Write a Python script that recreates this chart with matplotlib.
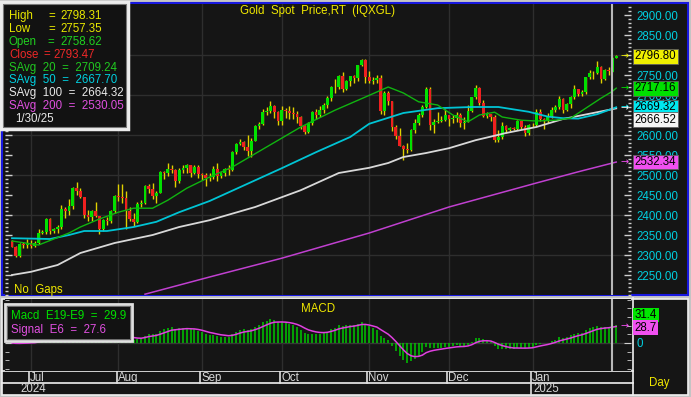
import matplotlib
matplotlib.use("Agg")
import numpy as np
import pandas as pd
import matplotlib.pyplot as plt
from matplotlib.patches import Rectangle
from matplotlib.ticker import MultipleLocator, FixedLocator, FuncFormatter

plt.rcParams['font.family'] = ['Liberation Sans', 'DejaVu Sans']

# ---- data (daily gold spot candles, weekdays 2024-06-24 .. 2025-01-31) ----
days = pd.bdate_range("2024-06-24", "2025-01-31")

opens = [2334, 2321, 2298, 2327, 2326, 2327, 2323, 2330, 2356, 2357,
         2390, 2359, 2364, 2371, 2415, 2411, 2422, 2468, 2459, 2445,
         2400, 2396, 2409, 2397, 2364, 2387, 2384, 2410, 2447, 2446,
         2443, 2410, 2390, 2382, 2427, 2431, 2472, 2465, 2447, 2456,
         2507, 2504, 2514, 2512, 2484, 2512, 2518, 2524, 2504, 2520,
         2503, 2500, 2493, 2495, 2516, 2497, 2506, 2516, 2512, 2558,
         2578, 2582, 2569, 2559, 2586, 2622, 2628, 2657, 2659, 2672,
         2658, 2634, 2663, 2659, 2656, 2653, 2644, 2622, 2608, 2630,
         2657, 2649, 2662, 2674, 2693, 2721, 2720, 2748, 2716, 2736,
         2747, 2743, 2774, 2788, 2744, 2736, 2737, 2743, 2659, 2706,
         2685, 2619, 2598, 2573, 2565, 2563, 2612, 2631, 2650, 2670,
         2715, 2625, 2632, 2636, 2638, 2650, 2639, 2643, 2650, 2631,
         2633, 2660, 2694, 2718, 2680, 2648, 2652, 2646, 2587, 2594,
         2622, 2612, 2618, 2614, 2634, 2621, 2606, 2624, 2626, 2658,
         2640, 2636, 2648, 2662, 2670, 2690, 2663, 2677, 2696, 2714,
         2703, 2708, 2744, 2755, 2754, 2770, 2740, 2763, 2758.62, 2793.47]
highs = [2337, 2322, 2330, 2333, 2340, 2337, 2336, 2365, 2363, 2392,
         2393, 2367, 2375, 2424, 2419, 2440, 2469, 2483, 2468, 2446,
         2413, 2412, 2432, 2398, 2390, 2394, 2413, 2451, 2477, 2477,
         2461, 2421, 2404, 2432, 2438, 2475, 2478, 2480, 2461, 2509,
         2510, 2531, 2526, 2514, 2517, 2526, 2528, 2526, 2524, 2524,
         2504, 2504, 2505, 2523, 2529, 2508, 2518, 2525, 2560, 2581,
         2590, 2584, 2600, 2592, 2625, 2633, 2664, 2670, 2685, 2675,
         2660, 2672, 2667, 2672, 2670, 2659, 2647, 2625, 2632, 2661,
         2666, 2673, 2679, 2697, 2722, 2740, 2749, 2758, 2738, 2748,
         2749, 2774, 2790, 2790, 2759, 2744, 2750, 2749, 2710, 2709,
         2686, 2626, 2618, 2575, 2580, 2615, 2639, 2656, 2674, 2721,
         2721, 2640, 2657, 2647, 2665, 2651, 2650, 2658, 2656, 2646,
         2676, 2696, 2726, 2721, 2688, 2658, 2653, 2651, 2613, 2632,
         2625, 2620, 2620, 2638, 2636, 2624, 2627, 2630, 2664, 2665,
         2643, 2654, 2670, 2675, 2697, 2693, 2679, 2697, 2725, 2716,
         2713, 2745, 2763, 2759, 2786, 2772, 2765, 2769, 2798.31, 2799]
lows = [2319, 2294, 2296, 2317, 2318, 2318, 2319, 2327, 2352, 2353,
        2353, 2355, 2355, 2366, 2393, 2400, 2414, 2451, 2443, 2393,
        2384, 2385, 2394, 2353, 2360, 2374, 2380, 2406, 2434, 2431,
        2364, 2385, 2372, 2379, 2421, 2428, 2455, 2441, 2430, 2455,
        2490, 2497, 2505, 2470, 2479, 2504, 2506, 2494, 2502, 2493,
        2488, 2472, 2486, 2490, 2485, 2493, 2497, 2500, 2510, 2553,
        2574, 2563, 2547, 2546, 2584, 2615, 2624, 2650, 2655, 2643,
        2625, 2624, 2642, 2641, 2640, 2630, 2615, 2603, 2604, 2625,
        2640, 2644, 2656, 2668, 2686, 2706, 2716, 2708, 2712, 2722,
        2731, 2735, 2772, 2730, 2730, 2728, 2730, 2652, 2650, 2675,
        2611, 2590, 2572, 2537, 2555, 2560, 2605, 2625, 2644, 2668,
        2612, 2605, 2630, 2632, 2636, 2622, 2630, 2633, 2621, 2614,
        2632, 2658, 2690, 2675, 2644, 2643, 2634, 2583, 2583, 2590,
        2604, 2609, 2612, 2612, 2614, 2597, 2600, 2620, 2623, 2636,
        2614, 2630, 2642, 2657, 2665, 2656, 2660, 2667, 2690, 2697,
        2697, 2703, 2741, 2740, 2752, 2730, 2738, 2750, 2757.35, 2792]
closes = [2321, 2298, 2327, 2326, 2327, 2323, 2330, 2356, 2357, 2390,
          2359, 2364, 2371, 2415, 2411, 2422, 2468, 2459, 2445, 2400,
          2396, 2409, 2397, 2364, 2387, 2384, 2410, 2447, 2446, 2443,
          2410, 2390, 2382, 2427, 2431, 2472, 2465, 2447, 2456, 2507,
          2504, 2514, 2512, 2484, 2512, 2518, 2524, 2504, 2520, 2503,
          2500, 2493, 2495, 2516, 2497, 2506, 2516, 2512, 2558, 2578,
          2582, 2569, 2559, 2586, 2622, 2628, 2657, 2659, 2672, 2658,
          2634, 2663, 2659, 2656, 2653, 2644, 2622, 2608, 2630, 2657,
          2649, 2662, 2674, 2693, 2721, 2720, 2748, 2716, 2736, 2747,
          2743, 2774, 2788, 2744, 2736, 2737, 2743, 2659, 2706, 2685,
          2619, 2598, 2573, 2565, 2563, 2612, 2631, 2650, 2670, 2715,
          2625, 2632, 2636, 2638, 2650, 2639, 2643, 2650, 2631, 2633,
          2660, 2694, 2718, 2680, 2648, 2652, 2646, 2587, 2594, 2622,
          2612, 2618, 2614, 2634, 2621, 2606, 2624, 2626, 2658, 2640,
          2636, 2648, 2662, 2670, 2690, 2663, 2677, 2696, 2714, 2703,
          2708, 2744, 2755, 2754, 2770, 2740, 2763, 2760, 2793.47, 2796.80]

# moving averages
sma20_dates = ["2024-06-24", "2024-07-03", "2024-07-15", "2024-07-18", "2024-07-25", "2024-08-01",
               "2024-08-07", "2024-08-14", "2024-08-20", "2024-08-27", "2024-09-04", "2024-09-12",
               "2024-09-25", "2024-10-08", "2024-10-21", "2024-10-31", "2024-11-08", "2024-11-14",
               "2024-11-20", "2024-11-27", "2024-12-03", "2024-12-09", "2024-12-12", "2024-12-18",
               "2024-12-20", "2024-12-27", "2025-01-02", "2025-01-09", "2025-01-15", "2025-01-21",
               "2025-01-27", "2025-01-30", "2025-01-31"]
sma20_vals = [2335, 2325, 2355, 2370, 2390, 2407, 2417, 2417, 2437, 2467, 2495, 2520,
              2570, 2620, 2662, 2695, 2720, 2705, 2683, 2675, 2650, 2633, 2650, 2657,
              2645, 2637, 2635, 2637, 2642, 2667, 2692, 2709.24, 2717.16]
sma50_dates = ["2024-06-24", "2024-07-08", "2024-07-15", "2024-07-19", "2024-07-29", "2024-08-07",
               "2024-08-15", "2024-08-23", "2024-09-04", "2024-10-01", "2024-10-14", "2024-10-25",
               "2024-11-01", "2024-11-07", "2024-11-14", "2024-11-27", "2024-12-10", "2024-12-19",
               "2024-12-31", "2025-01-07", "2025-01-13", "2025-01-17", "2025-01-24", "2025-01-31"]
sma50_vals = [2342, 2340, 2350, 2360, 2360, 2370, 2383, 2407, 2435, 2517, 2557, 2595,
              2628, 2640, 2655, 2667, 2670, 2670, 2658, 2646, 2642, 2641, 2652, 2669.32]
sma100_dates = ["2024-06-24", "2024-07-01", "2024-07-10", "2024-07-18", "2024-07-31", "2024-08-14",
                "2024-08-23", "2024-09-04", "2024-09-20", "2024-10-08", "2024-10-22", "2024-11-01",
                "2024-11-08", "2024-11-14", "2024-11-22", "2024-12-02", "2024-12-11", "2024-12-23",
                "2025-01-02", "2025-01-13", "2025-01-24", "2025-01-31"]
sma100_vals = [2250, 2258, 2275, 2305, 2330, 2350, 2370, 2387, 2420, 2462, 2505, 2518,
               2530, 2545, 2555, 2567, 2587, 2605, 2620, 2640, 2657, 2666.52]
sma200_dates = ["2024-08-12", "2024-09-04", "2024-10-01", "2024-11-01", "2024-12-02",
                "2025-01-02", "2025-01-17", "2025-01-31"]
sma200_vals = [2202, 2245, 2292, 2355, 2420, 2480, 2508, 2532.34]

legend_ma = [("SAvg  20  =  2709.24", "#20c820"), ("SAvg  50  =  2667.70", "#00d0e0"),
             ("SAvg  100  =  2664.32", "#e8e8e8"), ("SAvg  200  =  2530.05", "#e050e0")]
macd_text = "Macd  E19-E9  =  29.9"
signal_text = "Signal  E6  =  27.6"
macd_last, signal_last = 31.4, 28.7
price_labels = [2250, 2300, 2350, 2400, 2450, 2500, 2550, 2600, 2700, 2750, 2850, 2900]

# ---- derived ----
idx = np.arange(len(days))
pos = {d.strftime("%Y-%m-%d"): i for i, d in enumerate(days)}
o, h, l, c = map(np.array, (opens, highs, lows, closes))
cl = pd.Series(c)
macd = cl.ewm(span=9, adjust=False).mean() - cl.ewm(span=19, adjust=False).mean()
signal = macd.ewm(span=6, adjust=False).mean()

W, H = 691, 397
BG = "#151515"
GRID = "#2e2e2e"
YEL = "#f0e800"
CYAN = "#00d0e0"


def rect(lft, top, rgt, bot):
    return [lft / W, 1 - bot / H, (rgt - lft) / W, (bot - top) / H]


fig = plt.figure(figsize=(W / 100, H / 100), dpi=100, facecolor="#c4c4c4")
bg = fig.add_axes([0, 0, 1, 1], zorder=0)
bg.set_xlim(0, W)
bg.set_ylim(H, 0)
bg.axis("off")
bg.add_patch(Rectangle((2.5, 2.5), 686, 292, fc=BG, ec="#1818e0", lw=1.5))
bg.add_patch(Rectangle((2.5, 298.5), 686, 96, fc=BG, ec="#f0f0f0", lw=1.2))
bg.plot([633, 633], [298, 395], color="#f0f0f0", lw=1.2)
bg.plot([2, 633], [371, 371], color="#f0f0f0", lw=1.2)
bg.plot([2, 633], [382.5, 382.5], color="#f0f0f0", lw=1.2)

x0, x1 = (5 - 12) / 3.8, (631 - 12) / 3.8

# ---- price panel ----
ax = fig.add_axes(rect(5, 4, 631, 295), zorder=1)
ax.set_facecolor(BG)
ax.set_xlim(x0, x1)
ax.set_ylim(2200, 2927.5)
for s in ax.spines.values():
    s.set_visible(False)
ax.set_xticks([])
ax.yaxis.set_major_locator(FixedLocator(list(range(2250, 2901, 50))))
ax.yaxis.set_minor_locator(MultipleLocator(10))
ax.yaxis.set_major_formatter(FuncFormatter(
    lambda v, p: f"{v:.2f}" if round(v) in price_labels else ""))
ax.tick_params(axis="y", which="both", direction="in", left=True, right=True,
               labelleft=False, labelright=True, colors="#d0d0d0",
               labelcolor=CYAN, labelsize=8.3, pad=4)
ax.tick_params(axis="y", which="major", length=5, width=1)
ax.tick_params(axis="y", which="minor", length=2.5, width=1)
for v in range(2300, 2900, 100):
    ax.axhline(v, color=GRID, lw=1, zorder=0.5)

month_starts = [i for i in range(1, len(days)) if days[i].month != days[i - 1].month]
for i in month_starts:
    ax.axvline(i, color=GRID, lw=1, zorder=0.5)

ax.vlines(idx, l, h, colors="#e0d000", lw=1, zorder=2)
body_lo = np.minimum(o, c)
body_h = np.maximum(np.abs(c - o), 1.2)
ax.bar(idx, body_h, bottom=body_lo, width=0.75,
       color=np.where(c >= o, "#00e000", "#f02020"), lw=0, zorder=3)

ma_styles = [(sma200_dates, sma200_vals, "#c040d0", 1.1),
             (sma100_dates, sma100_vals, "#d8d8d8", 1.3),
             (sma50_dates, sma50_vals, "#00c4d4", 1.3),
             (sma20_dates, sma20_vals, "#10b410", 1.0)]
for dts, vals, col, lw in ma_styles:
    ax.plot([pos[d] for d in dts], vals, color=col, lw=lw, zorder=4)

ax.axvline(158, color="#b8b8b8", lw=1.5, zorder=5)

# value tags on the right axis
ytr = ax.get_yaxis_transform()
tags = [(closes[-1], 0, "#f0f000"),
        (sma20_vals[-1], 0, "#00e000"),
        (sma50_vals[-1], 0, "#00e8f0"),
        (sma100_vals[-1], -28, "#f4f4f4"),
        (sma200_vals[-1], 0, "#f050f0")]
for val, off, fc in tags:
    ax.text(1.006, val + off, f"{val:.2f}", transform=ytr, ha="left", va="center",
            fontsize=8.3, color="black", zorder=10, clip_on=False,
            bbox=dict(boxstyle="square,pad=0.12", fc=fc, ec="#606060", lw=0.6))
    ax.text(0.9895, val, "→", transform=ytr, ha="center", va="center",
            fontsize=7, color=fc, family="DejaVu Sans", zorder=10, clip_on=False)

# ---- MACD panel ----
mx = fig.add_axes(rect(5, 299, 631, 371), zorder=1)
mx.set_facecolor(BG)
mx.set_xlim(x0, x1)
mx.set_ylim(-48.5, 76)
for s in mx.spines.values():
    s.set_visible(False)
mx.set_xticks([])
mx.yaxis.set_major_locator(FixedLocator([0]))
mx.yaxis.set_minor_locator(MultipleLocator(15))
mx.tick_params(axis="y", which="both", direction="in", left=True, right=True,
               labelleft=False, labelright=True, colors="#d0d0d0",
               labelcolor=CYAN, labelsize=8.3, pad=4)
mx.tick_params(axis="y", which="major", length=5)
mx.tick_params(axis="y", which="minor", length=3)
mx.axhline(0, color="#383838", lw=1, zorder=0.5)
for i in month_starts:
    mx.axvline(i, color=GRID, lw=1, zorder=0.5)
mx.vlines(idx, 0, macd, colors="#00c800", lw=1.1, zorder=2)
mx.plot(idx, signal, color="#e040e0", lw=1.1, zorder=3)
mx.axvline(158, color="#b8b8b8", lw=1.5, zorder=5)
mtr = mx.get_yaxis_transform()
mx.text(1.006, macd_last + 17, f"{macd_last:.1f}", transform=mtr, ha="left", va="center",
        fontsize=8.3, color="black", zorder=10, clip_on=False,
        bbox=dict(boxstyle="square,pad=0.12", fc="#00e800", ec="none"))
mx.text(1.006, signal_last - 2, f"{signal_last:.1f}", transform=mtr, ha="left", va="center",
        fontsize=8.3, color="black", zorder=10, clip_on=False,
        bbox=dict(boxstyle="square,pad=0.12", fc="#f050f0", ec="none"))
mx.text(0.9895, signal_last, "→", transform=mtr, ha="center", va="center",
        fontsize=7, color="#f050f0", family="DejaVu Sans", zorder=10, clip_on=False)

# ---- date axis ----
dx = fig.add_axes(rect(5, 371, 631, 395), zorder=2)
dx.set_facecolor("none")
dx.set_xlim(x0, x1)
dx.set_ylim(0, 1)
dx.axis("off")
for i in month_starts:
    top = 0.0 if days[i].month == 1 else 0.52
    dx.plot([i - 0.5, i - 0.5], [top, 1], color="#e0e0e0", lw=1.2)
    dx.text(i - 0.2, 0.70, days[i].strftime("%b"), ha="left", va="center",
            fontsize=8.3, color="#d8d8d8")
dx.text(2.3, 0.24, str(days[0].year), ha="left", va="center", fontsize=8.3, color="#d8d8d8")
jan = [i for i in month_starts if days[i].month == 1][0]
dx.text(jan + 0.1, 0.24, str(days[jan].year), ha="left", va="center", fontsize=8.3, color="#d8d8d8")

# ---- overlay texts ----
ov = fig.add_axes([0, 0, 1, 1], zorder=5)
ov.set_xlim(0, W)
ov.set_ylim(H, 0)
ov.axis("off")
ov.patch.set_alpha(0)

ov.text(318, 11, "Gold  Spot  Price,RT  (IQXGL)", ha="center", va="center", fontsize=8.3, color=YEL)
ov.text(14, 290, "No  Gaps", ha="left", va="center", fontsize=8.3, color=YEL)
ov.text(318, 309, "MACD", ha="center", va="center", fontsize=8.3, color=YEL)
ov.text(649, 383, "Day", ha="left", va="center", fontsize=8.3, color=YEL)

ov.add_patch(Rectangle((1.5, 1.5), 127, 127, fc="#121212", ec="#ececec", lw=2.5))
ov.add_patch(Rectangle((3.5, 3.5), 123, 123, fill=False, ec="#7a7a7a", lw=0.8))
rows = [("High", highs[-2], 48, 60, "#e8e800"),
        ("Low", lows[-2], 48, 60, "#e8e800"),
        ("Open", opens[-2], 47, 60, "#20d020"),
        ("Close", closes[-2], 43, 53, "#ee2828")]
ly = 15.7
for name, val, xe, xv, col in rows:
    ov.text(9, ly, name, ha="left", va="center", fontsize=8.3, color=col)
    ov.text(xe, ly, "=", ha="left", va="center", fontsize=8.3, color=col)
    ov.text(xv, ly, f"{val:.2f}", ha="left", va="center", fontsize=8.3, color=col)
    ly += 12.95
for txt, col in legend_ma:
    ov.text(9, ly, txt, ha="left", va="center", fontsize=8.3, color=col)
    ly += 12.95
ov.text(15, ly, days[-2].strftime("%-m/%d/%y"), ha="left", va="center", fontsize=8.3, color="#e8e8e8")

ov.add_patch(Rectangle((5, 304), 127, 37, fc="#121212", ec="#e0e0e0", lw=2))
ov.add_patch(Rectangle((7, 306), 123, 33, fill=False, ec="#707070", lw=0.7))
ov.text(11, 316, macd_text, ha="left", va="center", fontsize=8.3, color="#00e000")
ov.text(11, 329.5, signal_text, ha="left", va="center", fontsize=8.3, color="#e050e0")

fig.savefig("out.png", dpi=100, facecolor=fig.get_facecolor())
